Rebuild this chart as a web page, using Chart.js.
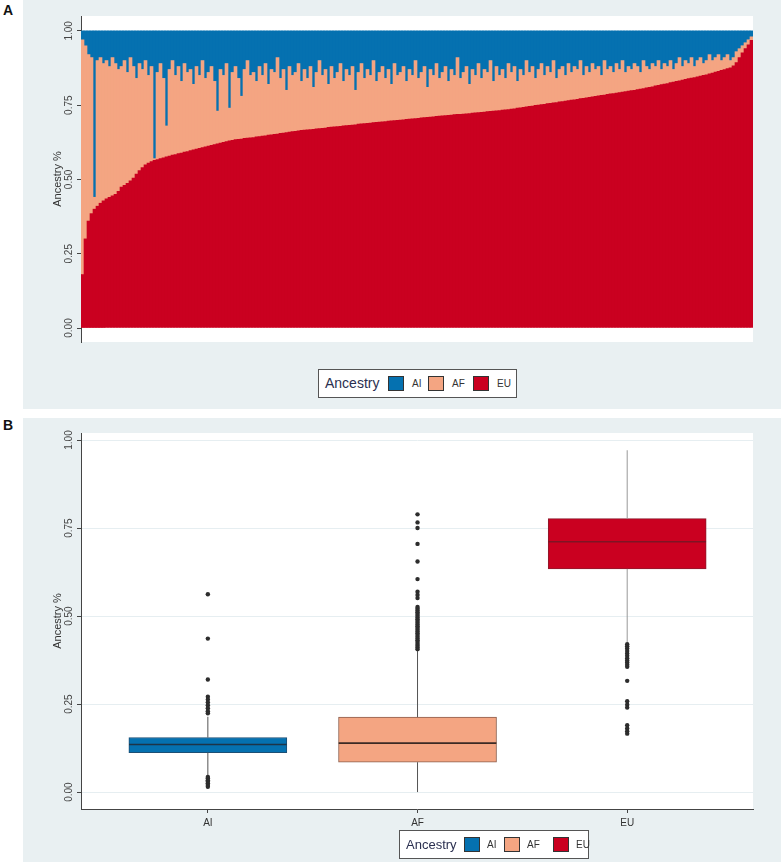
<!DOCTYPE html>
<html>
<head>
<meta charset="utf-8">
<script src="https://cdn.jsdelivr.net/npm/chart.js@4.4.0/dist/chart.umd.min.js"></script>
<style>
body { margin: 0; width: 782px; height: 862px; background: #fff; position: relative; overflow: hidden; font-family: 'Liberation Sans', Arial, sans-serif; }
.panel { position: absolute; left: 23px; width: 758px; background: #e9f0f2; }
#panelA { top: 0; height: 409px; }
#panelB { top: 418px; height: 444px; }
.panel canvas { position: absolute; left: 0; top: 0; }
.tag { position: absolute; left: 3px; font-weight: bold; font-size: 14px; color: #111; }
.legend { position: absolute; background: #fff; border: 1px solid #555; box-sizing: border-box; }
.legend span { position: absolute; white-space: nowrap; }
.legend .ttl { color: #2b3050; }
.legend .sw { border: 1px solid #333; box-sizing: border-box; width: 16px; height: 15px; }
.legend .lb { font-size: 10px; color: #333; }
</style>
</head>
<body>
<div class="tag" style="top:2px">A</div>
<div class="tag" style="top:417px">B</div>
<div class="panel" id="panelA"><canvas id="chartA" width="758" height="409"></canvas></div>
<div class="panel" id="panelB"><canvas id="chartB" width="758" height="444"></canvas></div>

<div class="legend" style="left:318px;top:369px;width:199px;height:29px">
  <span class="ttl" style="left:6px;top:5px;font-size:14px">Ancestry</span>
  <span class="sw" style="left:69px;top:6px;background:#0571b0"></span>
  <span class="lb" style="left:93px;top:8px">AI</span>
  <span class="sw" style="left:109px;top:6px;background:#f4a582"></span>
  <span class="lb" style="left:133px;top:8px">AF</span>
  <span class="sw" style="left:154px;top:6px;background:#ca0020"></span>
  <span class="lb" style="left:178px;top:8px">EU</span>
</div>
<div class="legend" style="left:399px;top:830px;width:190px;height:29px">
  <span class="ttl" style="left:6px;top:6px;font-size:13px">Ancestry</span>
  <span class="sw" style="left:64px;top:6px;background:#0571b0"></span>
  <span class="lb" style="left:87px;top:8px">AI</span>
  <span class="sw" style="left:104px;top:6px;background:#f4a582"></span>
  <span class="lb" style="left:127px;top:8px">AF</span>
  <span class="sw" style="left:153px;top:6px;background:#ca0020"></span>
  <span class="lb" style="left:176px;top:8px">EU</span>
</div>

<script>
// ---- panel A: individual ancestry shares, sorted by EU ----
const euShare = [
  0.180,0.300,0.360,0.385,0.400,0.410,0.420,0.428,0.435,0.440,0.445,0.450,0.460,0.474,0.480,0.487,
  0.495,0.505,0.518,0.530,0.540,0.549,0.555,0.560,0.564,0.567,0.570,0.573,0.576,0.579,0.582,0.584,
  0.587,0.589,0.592,0.594,0.597,0.600,0.602,0.605,0.607,0.610,0.612,0.615,0.617,0.620,0.622,0.625,
  0.627,0.630,0.632,0.634,0.635,0.636,0.638,0.639,0.640,0.641,0.643,0.644,0.646,0.647,0.649,0.650,
  0.652,0.653,0.655,0.656,0.658,0.659,0.661,0.662,0.664,0.665,0.666,0.667,0.668,0.669,0.670,0.671,
  0.672,0.673,0.675,0.676,0.677,0.678,0.679,0.680,0.681,0.682,0.683,0.684,0.686,0.687,0.688,0.689,
  0.690,0.691,0.692,0.693,0.694,0.695,0.696,0.697,0.698,0.699,0.700,0.701,0.702,0.703,0.704,0.705,
  0.706,0.707,0.708,0.709,0.710,0.711,0.712,0.713,0.714,0.715,0.716,0.717,0.718,0.719,0.719,0.720,
  0.721,0.722,0.723,0.724,0.725,0.726,0.727,0.728,0.729,0.730,0.731,0.732,0.733,0.734,0.735,0.737,
  0.738,0.740,0.741,0.743,0.744,0.746,0.747,0.749,0.750,0.752,0.753,0.755,0.756,0.758,0.759,0.761,
  0.762,0.764,0.765,0.767,0.768,0.770,0.772,0.773,0.775,0.776,0.778,0.780,0.781,0.783,0.784,0.786,
  0.788,0.789,0.791,0.792,0.794,0.796,0.797,0.799,0.800,0.802,0.804,0.806,0.808,0.810,0.812,0.815,
  0.817,0.819,0.821,0.823,0.826,0.828,0.830,0.832,0.834,0.837,0.839,0.841,0.843,0.845,0.848,0.850,
  0.852,0.855,0.858,0.861,0.864,0.867,0.870,0.873,0.876,0.882,0.893,0.910,0.926,0.940,0.953,0.968
];
const afShare = [
  0.790,0.650,0.560,0.525,0.040,0.490,0.490,0.462,0.465,0.440,0.465,0.440,0.410,0.406,0.420,0.373,
  0.415,0.375,0.322,0.360,0.330,0.351,0.295,0.320,0.006,0.293,0.320,0.267,0.104,0.291,0.318,0.266,
  0.293,0.241,0.298,0.266,0.273,0.220,0.278,0.245,0.293,0.230,0.248,0.265,0.213,0.110,0.248,0.225,
  0.263,0.110,0.228,0.246,0.205,0.144,0.232,0.261,0.210,0.219,0.187,0.236,0.204,0.243,0.171,0.220,
  0.208,0.257,0.185,0.214,0.142,0.221,0.189,0.198,0.226,0.165,0.204,0.173,0.212,0.141,0.190,0.229,
  0.178,0.197,0.145,0.204,0.163,0.182,0.211,0.150,0.189,0.168,0.197,0.116,0.174,0.203,0.152,0.181,
  0.160,0.209,0.138,0.167,0.186,0.145,0.174,0.123,0.192,0.151,0.160,0.179,0.128,0.167,0.146,0.195,
  0.134,0.153,0.172,0.101,0.160,0.139,0.178,0.127,0.146,0.165,0.114,0.153,0.132,0.191,0.121,0.140,
  0.159,0.098,0.147,0.126,0.165,0.114,0.143,0.132,0.171,0.100,0.149,0.118,0.137,0.106,0.155,0.123,
  0.142,0.090,0.129,0.107,0.156,0.114,0.133,0.091,0.120,0.138,0.097,0.125,0.104,0.142,0.081,0.109,
  0.118,0.086,0.125,0.093,0.112,0.100,0.128,0.077,0.105,0.084,0.112,0.090,0.099,0.067,0.116,0.084,
  0.092,0.071,0.099,0.078,0.106,0.064,0.083,0.071,0.090,0.078,0.056,0.094,0.072,0.060,0.078,0.065,
  0.083,0.051,0.069,0.057,0.074,0.042,0.060,0.078,0.046,0.063,0.051,0.069,0.037,0.055,0.062,0.040,
  0.048,0.065,0.042,0.049,0.056,0.033,0.040,0.047,0.024,0.028,0.037,0.030,0.024,0.020,0.017,0.012
];
const aiShare = [
  0.03,0.05,0.08,0.09,0.56,0.10,0.09,0.11,0.10,0.12,0.09,0.11,0.13,0.12,0.10,0.14,
  0.09,0.12,0.16,0.11,0.13,0.10,0.15,0.12,0.43,0.14,0.11,0.16,0.32,0.13,0.10,0.15,
  0.12,0.17,0.11,0.14,0.13,0.18,0.12,0.15,0.10,0.16,0.14,0.12,0.17,0.27,0.13,0.15,
  0.11,0.26,0.14,0.12,0.16,0.22,0.13,0.10,0.15,0.14,0.17,0.12,0.15,0.11,0.18,0.13,
  0.14,0.09,0.16,0.13,0.20,0.12,0.15,0.14,0.11,0.17,0.13,0.16,0.12,0.19,0.14,0.10,
  0.15,0.13,0.18,0.12,0.16,0.14,0.11,0.17,0.13,0.15,0.12,0.20,0.14,0.11,0.16,0.13,
  0.15,0.10,0.17,0.14,0.12,0.16,0.13,0.18,0.11,0.15,0.14,0.12,0.17,0.13,0.15,0.10,
  0.16,0.14,0.12,0.19,0.13,0.15,0.11,0.16,0.14,0.12,0.17,0.13,0.15,0.09,0.16,0.14,
  0.12,0.18,0.13,0.15,0.11,0.16,0.13,0.14,0.10,0.17,0.12,0.15,0.13,0.16,0.11,0.14,
  0.12,0.17,0.13,0.15,0.10,0.14,0.12,0.16,0.13,0.11,0.15,0.12,0.14,0.10,0.16,0.13,
  0.12,0.15,0.11,0.14,0.12,0.13,0.10,0.15,0.12,0.14,0.11,0.13,0.12,0.15,0.10,0.13,
  0.12,0.14,0.11,0.13,0.10,0.14,0.12,0.13,0.11,0.12,0.14,0.10,0.12,0.13,0.11,0.12,
  0.10,0.13,0.11,0.12,0.10,0.13,0.11,0.09,0.12,0.10,0.11,0.09,0.12,0.10,0.09,0.11,
  0.10,0.08,0.10,0.09,0.08,0.10,0.09,0.08,0.10,0.09,0.07,0.06,0.05,0.04,0.03,0.02
];
const yTicks = [0, 0.25, 0.5, 0.75, 1];

// ---- panel B: box plot summaries ----
const boxCats = ["AI", "AF", "EU"];
const q1 = [0.112, 0.085, 0.634];
const median = [0.135, 0.139, 0.711];
const q3 = [0.155, 0.213, 0.777];
const whiskLo = [0.047, 0.000, 0.425];
const whiskHi = [0.214, 0.403, 0.971];
const outliersAI = [0.562, 0.436, 0.320, 0.271, 0.263, 0.255, 0.247, 0.238, 0.230, 0.224,
  0.043, 0.039, 0.034, 0.030, 0.025, 0.020, 0.015];
const outliersAF = [0.789, 0.766, 0.750, 0.705, 0.655, 0.605, 0.569, 0.560, 0.551,
  0.526, 0.521, 0.516, 0.511, 0.506, 0.501, 0.496, 0.491, 0.486, 0.481, 0.476, 0.471,
  0.466, 0.461, 0.456, 0.451, 0.446, 0.441, 0.436, 0.431, 0.426, 0.421, 0.416, 0.411, 0.406];
const outliersEU = [0.420, 0.414, 0.408, 0.401, 0.394, 0.387, 0.380, 0.374, 0.368, 0.362, 0.356,
  0.316, 0.258, 0.248, 0.240, 0.190, 0.181, 0.173, 0.166];

const colors = ["#0571b0", "#f4a582", "#ca0020"];
const edgeColors = ["#1d4f74", "#8c5e4c", "#8d1a2c"];
const medianColors = ["#1e3447", "#3b2a24", "#7e1424"];
const whiskColors = ["#555555", "#555555", "#999999"];
const boxHalf = 0.376;

Chart.defaults.font.family = "'Liberation Sans', Arial, sans-serif";
Chart.defaults.color = "#444";

const plotBg = {
  id: 'plotBg',
  beforeDraw(chart) {
    const { ctx, chartArea: a } = chart;
    ctx.save();
    ctx.fillStyle = '#fff';
    ctx.fillRect(a.left, a.top, a.right - a.left, a.bottom - a.top);
    ctx.restore();
  }
};

function yAxis(min, max, gridColor, showGrid) {
  return {
    min: min, max: max,
    afterBuildTicks: s => { s.ticks = yTicks.map(v => ({ value: v })); },
    afterFit: s => { s.width = 58; },
    border: { color: '#444', width: 1 },
    grid: { drawOnChartArea: showGrid, color: gridColor, tickLength: 4, tickColor: '#444' },
    ticks: {
      minRotation: 90, maxRotation: 90, crossAlign: 'center', padding: -1.5,
      font: { size: 10 }, color: '#444',
      callback: v => v.toFixed(2)
    },
    title: { display: true, text: 'Ancestry %', color: '#333', font: { size: 11 }, padding: { top: 28, bottom: 0 } }
  };
}

// Panel A stacked bars
const individuals = euShare.map((v, i) => i + 1);
new Chart(document.getElementById('chartA'), {
  type: 'bar',
  data: {
    labels: individuals,
    datasets: [
      { label: 'EU', data: euShare, backgroundColor: colors[2] },
      { label: 'AF', data: afShare, backgroundColor: colors[1] },
      { label: 'AI', data: aiShare, backgroundColor: colors[0] }
    ]
  },
  options: {
    responsive: false, animation: false, devicePixelRatio: 1,
    layout: { padding: { top: 16, right: 28, bottom: 67, left: 0 } },
    datasets: { bar: { categoryPercentage: 1, barPercentage: 1, borderWidth: 0 } },
    plugins: { legend: { display: false }, tooltip: { enabled: false } },
    scales: {
      x: { stacked: true, display: false },
      y: Object.assign(yAxis(-0.047, 1.05, '#fff', false), { stacked: true })
    }
  },
  plugins: [plotBg]
});

// Panel B box plots built from the summaries
const boxData = boxCats.map((c, i) => ({ x: i + 1, y: [q1[i], q3[i]] }));
const medianSets = boxCats.map((c, i) => ({
  type: 'line', order: 1,
  data: [{ x: i + 1 - boxHalf, y: median[i] }, { x: i + 1 + boxHalf, y: median[i] }],
  borderColor: medianColors[i], borderWidth: 1.6, pointRadius: 0
}));
const whiskerSets = boxCats.map((c, i) => ({
  type: 'line', order: 2,
  data: [{ x: i + 1, y: whiskLo[i] }, { x: i + 1, y: q1[i] }, { x: i + 1, y: null },
         { x: i + 1, y: q3[i] }, { x: i + 1, y: whiskHi[i] }],
  borderColor: whiskColors[i], borderWidth: 1, pointRadius: 0, spanGaps: false
}));
const outlierLists = [outliersAI, outliersAF, outliersEU];
const outlierSets = outlierLists.map((list, i) => ({
  type: 'line', order: 0, showLine: false,
  data: list.map(v => ({ x: i + 1, y: v })),
  pointRadius: 2.2, pointBackgroundColor: '#2d2d2d', pointBorderWidth: 0
}));

new Chart(document.getElementById('chartB'), {
  type: 'bar',
  data: {
    datasets: [
      { label: 'box', order: 3, data: boxData, backgroundColor: colors, borderColor: edgeColors,
        borderWidth: 1, borderSkipped: false, barThickness: 158 },
      ...whiskerSets, ...medianSets, ...outlierSets
    ]
  },
  options: {
    responsive: false, animation: false, devicePixelRatio: 1,
    layout: { padding: { top: 15, right: 28, bottom: 0, left: 0 } },
    plugins: { legend: { display: false }, tooltip: { enabled: false } },
    scales: {
      x: {
        type: 'linear', min: 0.395, max: 3.6, offset: false,
        afterBuildTicks: s => { s.ticks = boxCats.map((c, i) => ({ value: i + 1 })); },
        afterFit: s => { s.height = 53; },
        border: { color: '#444', width: 1 },
        grid: { offset: false, drawOnChartArea: false, tickLength: 4, tickColor: '#444' },
        ticks: { padding: 4, font: { size: 10 }, color: '#333', callback: v => boxCats[v - 1] }
      },
      y: yAxis(-0.048, 1.02, '#e6eef1', true)
    }
  },
  plugins: [plotBg]
});
</script>
</body>
</html>
